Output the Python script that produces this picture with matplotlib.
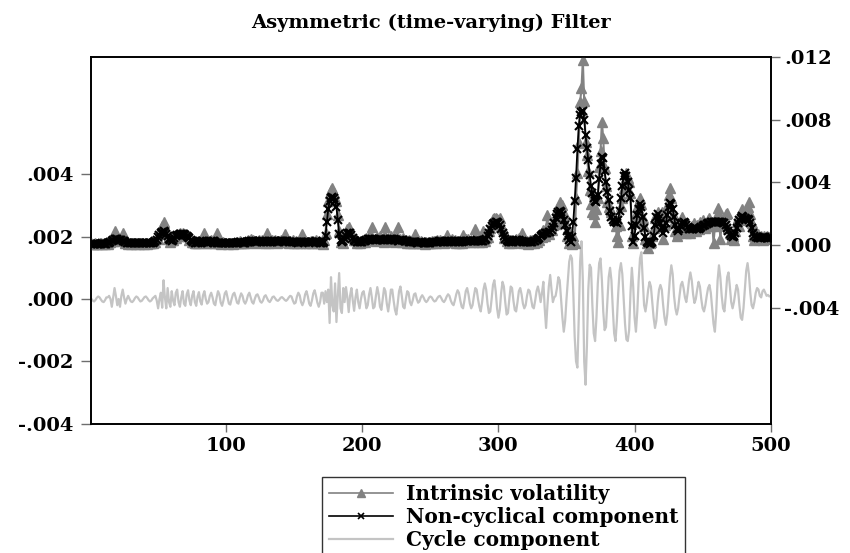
import numpy as np
import matplotlib
matplotlib.use("Agg")
import matplotlib.pyplot as plt
from matplotlib.lines import Line2D

# ---------------- data (values in units of 1e-5) ----------------
SCALE = 1e-5
observations = np.arange(1, 501)

intrinsic_volatility = [
    10,6,9,12,7,5,10,11,8,12,6,14,8,22,18,35,28,88,45,30,
    40,25,38,75,30,15,22,8,14,6,12,10,15,8,12,6,14,10,16,8,
    12,7,14,10,16,12,22,20,45,40,80,70,120,150,110,95,40,55,22,35,
    30,55,48,70,60,80,68,78,62,72,55,60,35,40,18,22,10,16,12,25,
    20,35,18,75,12,20,10,25,30,20,28,15,75,10,16,8,14,18,10,15,
    8,16,10,14,8,15,10,20,14,25,12,20,10,22,14,30,20,40,25,30,
    18,25,15,30,22,35,20,28,14,75,15,28,20,35,22,30,16,28,18,30,
    22,35,70,20,30,15,28,18,30,16,25,12,22,10,24,70,18,28,14,22,
    12,25,14,28,18,30,16,25,10,20,8,30,80,200,280,330,350,364,330,300,
    280,190,90,20,35,15,55,80,100,115,90,70,55,30,35,15,28,12,25,20,
    30,22,45,30,55,48,115,30,40,25,50,30,55,35,45,20,115,25,45,30,
    55,35,50,20,45,115,25,40,20,45,22,35,15,30,12,28,10,25,70,12,
    24,10,25,12,22,8,20,10,22,12,24,14,25,15,30,20,32,18,28,14,
    25,65,20,35,22,38,18,32,15,28,12,26,14,65,22,38,24,40,20,35,
    18,40,100,25,40,18,35,20,90,25,45,50,90,110,150,165,172,170,165,160,
    172,120,100,45,60,25,35,12,30,14,28,18,40,22,45,25,75,15,30,10,
    28,8,30,12,35,15,40,20,50,35,70,50,95,60,110,190,70,110,95,130,
    160,135,230,180,275,230,255,140,190,60,110,10,40,5,60,10,300,460,650,910,
    1000,1180,920,660,575,470,350,260,210,200,150,230,300,500,600,785,680,490,380,275,
    240,230,210,190,170,120,60,20,130,250,300,365,420,460,430,400,330,60,10,150,
    200,240,280,300,260,170,120,40,10,-20,15,20,60,110,170,190,210,150,120,210,
    40,130,180,250,320,365,300,200,150,90,60,80,130,160,180,130,100,80,120,90,
    80,120,100,140,90,130,100,150,120,160,140,110,130,160,170,120,150,10,120,180,
    235,190,40,130,170,150,200,205,110,80,40,60,30,90,150,170,120,200,230,200,
    160,210,240,275,200,140,60,30,80,40,70,45,60,35,55,40,60,45,50,48,
]

noncyclical_component = [
    8,7,8,9,8,7,8,9,10,9,8,9,12,16,22,28,33,36,37,36,
    34,32,30,28,25,20,16,13,11,10,10,11,12,11,10,10,11,12,12,11,
    10,10,11,12,13,15,18,25,35,50,65,78,86,88,84,72,55,40,30,28,
    35,45,55,62,67,70,72,72,70,66,60,52,42,32,24,18,15,14,16,20,
    24,26,24,20,17,15,16,19,23,25,23,19,16,14,13,12,12,13,14,13,
    12,12,11,11,12,12,13,15,17,18,17,16,15,16,18,22,26,28,27,24,
    21,19,20,23,26,27,25,22,20,19,20,22,25,27,26,24,22,21,22,24,
    27,28,27,25,23,21,20,21,22,21,19,17,16,17,19,21,22,21,19,17,
    16,17,18,20,22,23,21,18,15,14,16,20,60,150,230,280,300,305,300,280,
    240,160,70,30,22,25,40,60,75,80,75,62,48,35,27,22,20,19,20,22,
    24,28,33,38,40,39,36,33,31,32,35,38,40,38,35,32,30,32,35,39,
    41,40,37,33,30,28,29,31,33,32,29,26,24,22,21,20,19,18,17,16,
    16,17,18,17,16,15,14,14,15,16,17,18,19,20,22,24,25,24,22,20,
    19,20,22,24,26,27,26,24,22,20,19,18,20,23,26,28,29,28,26,24,
    23,25,28,30,29,26,24,23,25,30,40,55,75,100,120,135,143,147,145,138,
    125,105,80,58,40,30,25,22,20,20,22,26,30,33,32,29,25,22,20,19,
    18,18,19,20,22,24,26,30,36,45,55,65,72,76,78,80,82,85,95,115,
    140,170,195,212,218,210,190,160,125,90,60,35,20,50,150,280,430,610,760,830,
    850,855,800,700,620,540,450,380,330,300,280,275,320,420,520,560,555,470,400,340,
    290,220,180,160,150,145,140,160,220,300,380,440,460,440,400,350,300,120,20,60,
    130,190,230,260,240,180,110,50,20,10,8,10,20,60,130,180,195,170,140,110,
    80,100,140,190,240,270,260,230,180,130,100,90,100,120,140,150,140,125,115,105,
    100,100,105,110,110,105,105,110,115,120,125,130,135,140,142,145,147,148,150,150,
    148,147,146,145,143,140,130,110,90,70,55,50,60,80,110,140,160,175,185,180,
    170,165,165,160,140,110,80,55,50,50,48,47,48,50,52,50,48,47,46,45,
]

cycle_component = [
    0,-5,-8,-3,4,8,5,-2,-8,-10,-4,5,
    5,10,0,-25,5,35,10,-20,0,-25,10,30,5,-15,0,10,0,-8,
    -10,-5,3,8,5,-2,-8,-6,0,6,8,3,-4,-8,-5,2,6,
    10,-5,-30,0,20,-28,60,5,-30,35,-10,-25,25,-5,-20,
    20,30,-10,-25,5,25,-15,-22,15,28,-5,-20,10,25,-10,-22,8,22,-8,-18,12,25,0,
    -15,-10,10,20,5,-15,-20,5,25,15,-12,-22,-5,18,25,5,-15,-18,0,15,
    20,5,-12,-15,5,18,10,-8,-15,-5,12,20,5,-10,-15,0,12,15,5,-8,-12,-5,8,12,3,
    -6,-10,-3,6,8,2,-4,-6,-2,4,6,2,-3,-6,-2,5,10,8,-5,-15,
    -12,8,20,12,-10,-20,-8,15,25,8,-15,-22,-5,18,28,10,-12,-25,-10,20,
    20,-15,25,-10,30,-77,70,-20,-40,50,-74,10,83,-30,-45,35,
    -10,38,5,-42,10,35,-5,-38,5,30,-10,-30,0,20,
    25,0,-30,-20,15,35,5,-30,-25,10,38,15,-25,-35,0,35,25,-15,-40,-10,30,30,-5,-35,-50,
    -15,25,40,10,-25,-30,0,25,20,-10,-20,-5,15,18,0,-12,-8,5,12,5,
    -5,-10,-5,4,8,5,-3,-8,-6,2,8,10,3,-6,-10,-3,8,15,10,-5,
    -15,-20,-5,15,28,20,-5,-25,-30,-5,25,35,15,-15,-30,-20,10,35,30,0,
    -25,-40,-10,30,50,30,-15,-45,-40,0,45,60,25,-30,-60,-35,20,55,40,-10,-50,-45,0,40,35,
    -5,-35,-40,-10,25,35,15,-15,-30,-20,10,30,25,0,-25,-30,-5,25,40,20,
    -10,20,55,-30,-93,-20,40,77,30,-10,5,10,35,70,60,0,-60,-105,-70,0,
    60,120,140,130,20,-120,-200,-220,-60,120,185,60,-200,-275,-150,30,110,100,-20,-110,
    -135,-60,50,115,130,60,-40,-100,-90,-10,70,100,60,-30,-110,-135,-70,20,90,115,
    80,0,-80,-130,-135,-100,20,100,40,-60,-105,-40,60,130,150,60,-20,-40,-10,30,
    55,40,-10,-60,-93,-70,-10,30,45,30,-20,-60,-83,-50,10,70,108,80,10,-30,
    -50,-30,10,45,55,35,5,-10,20,60,85,60,15,-13,0,30,55,40,0,-30,
    -40,-20,10,35,45,20,-30,-80,-105,-40,60,108,70,10,-30,-40,10,70,85,40,
    -10,-30,-10,20,45,30,-20,-60,-67,-30,30,90,115,80,20,-20,-30,-10,20,35,
    30,10,5,25,30,20,10,13,8,10,
]

x_ticks = [100, 200, 300, 400, 500]
left_ticks = [-0.004, -0.002, 0.000, 0.002, 0.004]
left_labels = ["-.004", "-.002", ".000", ".002", ".004"]
right_ticks = [-0.004, 0.000, 0.004, 0.008, 0.012]
right_labels = ["-.004", ".000", ".004", ".008", ".012"]
series_names = ["Intrinsic volatility", "Non-cyclical component", "Cycle component"]
title_text = "Asymmetric (time-varying) Filter"

assert len(intrinsic_volatility) == 500
assert len(noncyclical_component) == 500
assert len(cycle_component) == 500

vol = np.array(intrinsic_volatility) * SCALE
trend = np.array(noncyclical_component) * SCALE
cycle = np.array(cycle_component) * SCALE

# ---------------- styling ----------------
FAM = ["DejaVu Serif", "Liberation Serif"]
plt.rcParams["font.family"] = FAM
plt.rcParams["font.weight"] = "bold"

C_VOL = "#828282"
C_TREND = "#000000"
C_CYC = "#c4c4c4"
C_TICK = "#6e6e6e"

fig = plt.figure(figsize=(8.5, 5.53), dpi=100)
ax = fig.add_axes([91.4 / 850, 1 - 423.7 / 553, (770.7 - 91.4) / 850, (423.7 - 57) / 553])
ax2 = ax.twinx()

ax.plot(observations, cycle, color=C_CYC, lw=1.6, zorder=2)
ax2.plot(observations, vol, color=C_VOL, lw=1.5, marker="^", ms=6.5,
         mec=C_VOL, mfc=C_VOL, zorder=2)
ax2.plot(observations, trend, color=C_TREND, lw=1.3, marker="x", ms=6,
         mew=1.5, zorder=3)

ax.set_xlim(1, 500)
ax.set_ylim(-0.004, 0.00776)
ax2.set_ylim(-0.0114, 0.012)

ax.set_xticks(x_ticks)
ax.set_xticklabels([str(v) for v in x_ticks])
ax.set_yticks(left_ticks)
ax.set_yticklabels(left_labels)
ax2.set_yticks(right_ticks)
ax2.set_yticklabels(right_labels)

for a in (ax, ax2):
    for s in a.spines.values():
        s.set_linewidth(1.2)
        s.set_color("black")

ax.tick_params(axis="x", direction="out", length=5.5, width=1.0, color=C_TICK,
               labelsize=14, pad=4)
ax.tick_params(axis="y", direction="out", length=7, width=1.0, color=C_TICK,
               labelsize=14, pad=6)
ax2.tick_params(axis="y", direction="out", length=6.5, width=1.0, color=C_TICK,
                labelsize=14, pad=3)
for lab in ax.get_xticklabels() + ax.get_yticklabels() + ax2.get_yticklabels():
    lab.set_fontweight("bold")
    lab.set_family(FAM)

fig.text((91.4 + 770.7) / 2 / 850, 1 - 28.5 / 553, title_text, ha="center",
         va="baseline", fontsize=14, fontweight="bold", family=FAM)

handles = [
    Line2D([], [], color=C_VOL, lw=1.2, marker="^", ms=6, mfc=C_VOL, mec=C_VOL),
    Line2D([], [], color=C_TREND, lw=1.2, marker="x", ms=5, mew=1.2),
    Line2D([], [], color=C_CYC, lw=1.6),
]
leg = fig.legend(handles, series_names, loc="upper left",
                 bbox_to_anchor=(322 / 850, 1 - 477 / 553),
                 frameon=True, fancybox=False, numpoints=1,
                 handlelength=3.2, handletextpad=0.6, labelspacing=0.15,
                 borderpad=0.35, borderaxespad=0.0,
                 prop={"family": FAM, "weight": "bold", "size": 14.5})
leg.get_frame().set_edgecolor("black")
leg.get_frame().set_linewidth(1.0)

fig.savefig("out.png", dpi=100)
